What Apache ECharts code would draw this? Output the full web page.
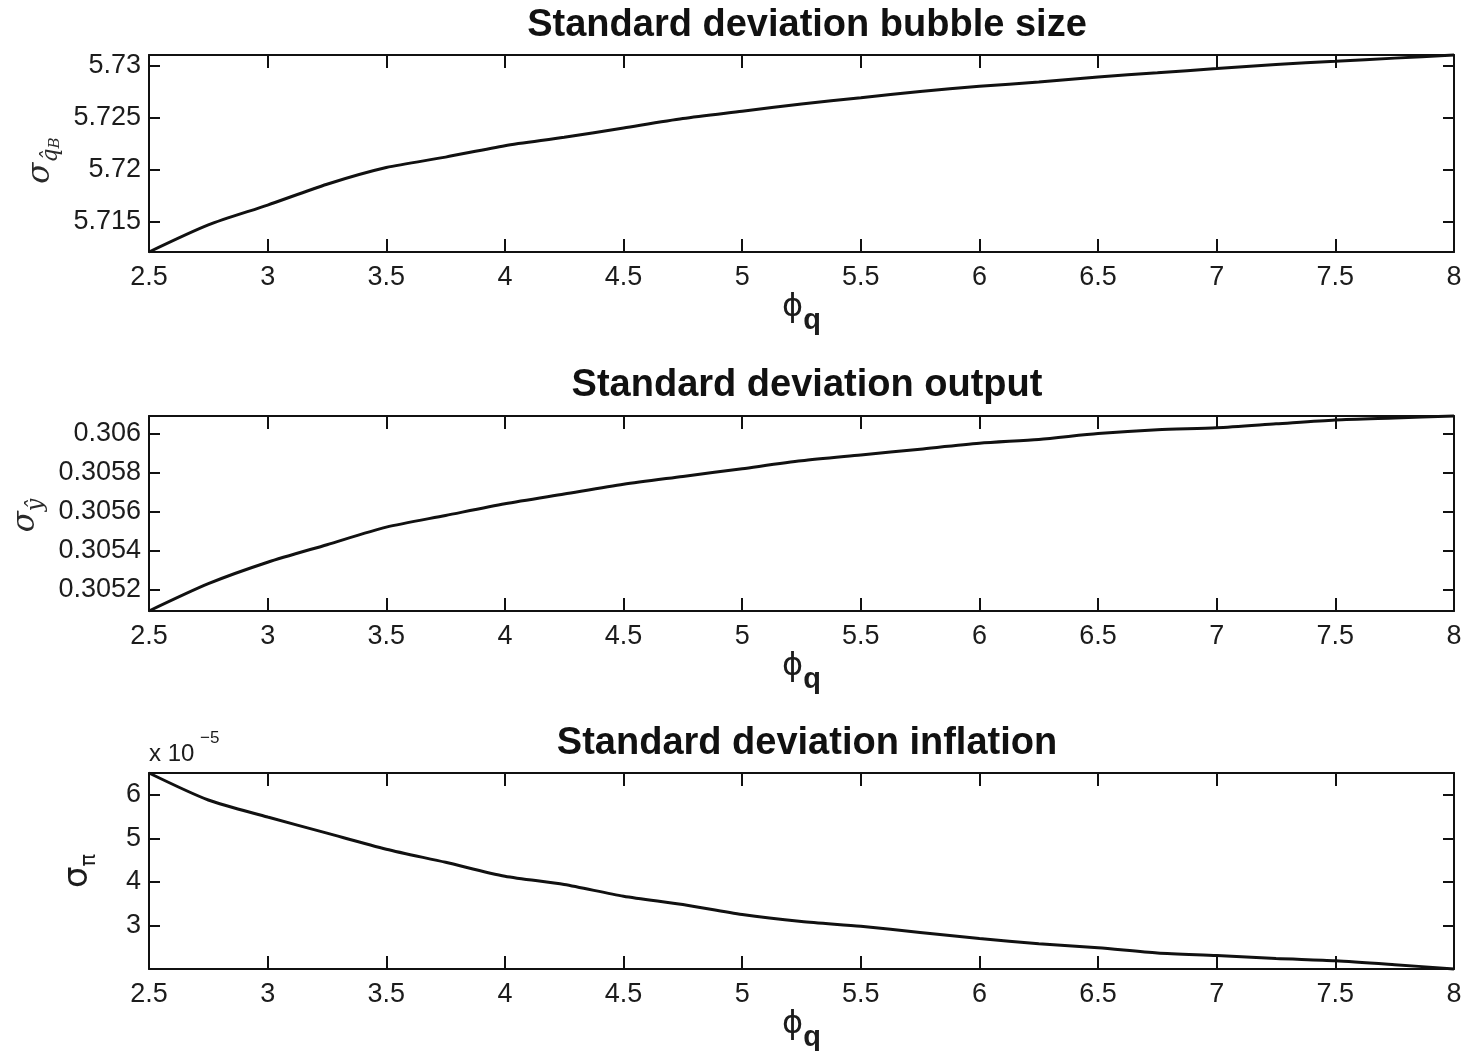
<!DOCTYPE html>
<html>
<head>
<meta charset="utf-8">
<script src="https://cdn.jsdelivr.net/npm/echarts@6/dist/echarts.min.js"></script>
<style>
  html, body { margin: 0; padding: 0; background: #fff; }
  #chart { width: 1470px; height: 1051px; }
</style>
</head>
<body>
<div id="chart"></div>
<script>
// Policy parameter phi_q on the horizontal axis
const phiQ = [2.5, 2.75, 3.0, 3.25, 3.5, 3.75, 4.0, 4.25, 4.5, 4.75, 5.0, 5.25,
              5.5, 5.75, 6.0, 6.25, 6.5, 6.75, 7.0, 7.25, 7.5, 7.75, 8.0];

// Standard deviation of the bubble size
const bubbleStd = [5.7121, 5.7147, 5.7166, 5.7186, 5.7202, 5.7212, 5.7223, 5.7231,
                   5.7240, 5.7249, 5.7256, 5.7263, 5.7269, 5.7275, 5.7280, 5.7284,
                   5.7289, 5.7293, 5.7297, 5.7301, 5.7304, 5.7307, 5.7310];

// Standard deviation of output
const outputStd = [0.30509, 0.30523, 0.30534, 0.30543, 0.30552, 0.30558, 0.30564, 0.30569,
                   0.30574, 0.30578, 0.30582, 0.30586, 0.30589, 0.30592, 0.30595, 0.30597,
                   0.30600, 0.30602, 0.30603, 0.30605, 0.30607, 0.30608, 0.30609];

// Standard deviation of inflation, in units of 1e-5
const inflationStdE5 = [6.50, 5.88, 5.49, 5.12, 4.75, 4.45, 4.13, 3.94, 3.67, 3.48, 3.25, 3.09,
                        2.98, 2.84, 2.70, 2.58, 2.49, 2.37, 2.31, 2.24, 2.19, 2.10, 2.00];

// Tick values of the vertical axes
const bubbleTicks = [5.715, 5.72, 5.725, 5.73];
const outputTicks = [0.3052, 0.3054, 0.3056, 0.3058, 0.306];
const inflationTicks = [3, 4, 5, 6];

const titles = ['Standard deviation bubble size', 'Standard deviation output', 'Standard deviation inflation'];

const INK = '#111';
const TEXT = '#1c1c1c';
const SANS = '"Liberation Sans", Arial, sans-serif';

const panels = [
  { top: 55, height: 197, values: bubbleStd, ticks: bubbleTicks, yMin: 5.7121, yMax: 5.7310,
    name: '{s|σ}{q|q̂}{b|B}', nameGap: 86, namePad: [0, 14, 0, 0], titleTop: 2 },
  { top: 416, height: 195, values: outputStd, ticks: outputTicks, yMin: 0.30509, yMax: 0.30609,
    name: '{s|σ}{q|ŷ}', nameGap: 100, namePad: [0, 4, 0, 0], titleTop: 362 },
  { top: 773, height: 196, values: inflationStdE5, ticks: inflationTicks, yMin: 2.0, yMax: 6.5,
    name: '{S|σ}{p|π}', nameGap: 49, namePad: [0, 0, 0, 0], titleTop: 720 }
];

const fmt = v => String(+Number(v).toFixed(5));

const grid = [], xAxis = [], yAxis = [], series = [], title = [];

panels.forEach((p, i) => {
  grid.push({ left: 149, right: 16, top: p.top, height: p.height, containLabel: false, outerBoundsMode: 'none' });

  title.push({
    text: titles[i], left: 802, top: p.titleTop, textAlign: 'center',
    textStyle: { fontFamily: SANS, fontSize: 38, fontWeight: 'bold', color: INK }
  });

  const lineStyle = { color: INK, width: 2 };
  const xBase = {
    gridIndex: i, type: 'value', min: 2.5, max: 8, interval: 0.5,
    axisLine: { show: true, onZero: false, lineStyle },
    axisTick: { show: true, inside: true, length: 13, lineStyle },
    splitLine: { show: false }
  };
  xAxis.push(Object.assign({}, xBase, {
    position: 'bottom',
    axisLabel: { fontFamily: SANS, fontSize: 27, color: TEXT, margin: 12, formatter: fmt },
    name: '{p|ϕ}{q|q}', nameLocation: 'middle', nameGap: 31,
    nameTextStyle: {
      rich: {
        p: { fontFamily: '"DejaVu Sans", sans-serif', fontSize: 32, lineHeight: 44, padding: [0, 0, 20, 0], verticalAlign: 'top', color: TEXT },
        q: { fontFamily: SANS, fontWeight: 'bold', fontSize: 29, lineHeight: 44, verticalAlign: 'bottom', color: TEXT }
      }
    }
  }));
  xAxis.push(Object.assign({}, xBase, {
    position: 'top', axisLabel: { show: false }
  }));

  const yBase = {
    gridIndex: i, type: 'value', min: p.yMin, max: p.yMax,
    axisLine: { show: true, onZero: false, lineStyle },
    axisTick: { show: true, inside: true, length: 11, lineStyle, customValues: p.ticks },
    splitLine: { show: false }
  };
  yAxis.push(Object.assign({}, yBase, {
    position: 'left',
    axisLabel: { fontFamily: SANS, fontSize: 27, color: TEXT, margin: 8, customValues: p.ticks, formatter: fmt },
    name: p.name, nameLocation: 'middle', nameRotate: 90, nameGap: p.nameGap,
    nameTextStyle: {
      padding: p.namePad,
      rich: {
        s: { fontFamily: '"DejaVu Serif", serif', fontStyle: 'italic', fontSize: 31, lineHeight: 44, color: '#2a2a2a' },
        q: { fontFamily: '"DejaVu Serif", serif', fontStyle: 'italic', fontSize: 22, lineHeight: 20, verticalAlign: 'bottom', color: '#2a2a2a' },
        b: { fontFamily: '"DejaVu Serif", serif', fontStyle: 'italic', fontSize: 15, lineHeight: 10, verticalAlign: 'bottom', color: '#2a2a2a' },
        S: { fontFamily: '"DejaVu Sans", sans-serif', fontSize: 34, lineHeight: 44, color: TEXT },
        p: { fontFamily: '"DejaVu Sans", sans-serif', fontSize: 21, lineHeight: 6, verticalAlign: 'bottom', color: TEXT }
      }
    }
  }));
  yAxis.push(Object.assign({}, yBase, {
    position: 'right', axisLabel: { show: false }
  }));

  series.push({
    type: 'line', xAxisIndex: 2 * i, yAxisIndex: 2 * i,
    data: phiQ.map((x, k) => [x, p.values[k]]),
    showSymbol: false, smooth: 0.25, clip: false,
    lineStyle: { color: INK, width: 3 }, z: 3
  });
});

const chart = echarts.init(document.getElementById('chart'), null, { renderer: 'canvas' });
chart.setOption({
  animation: false,
  backgroundColor: '#fff',
  title, grid, xAxis, yAxis, series,
  graphic: [
    { type: 'text', left: 149, top: 742, style: { text: 'x 10', fontFamily: SANS, fontSize: 24, fill: TEXT } },
    { type: 'text', left: 200, top: 730, style: { text: '−5', fontFamily: SANS, fontSize: 17, fill: TEXT } }
  ]
});
</script>
</body>
</html>
